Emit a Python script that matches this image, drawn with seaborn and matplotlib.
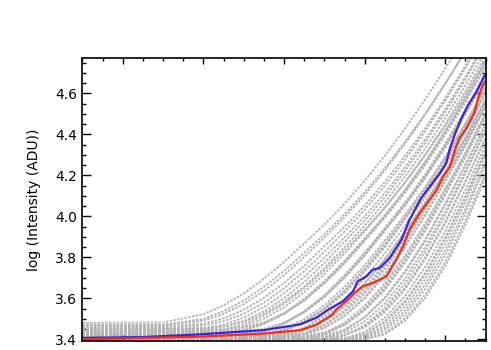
import matplotlib
matplotlib.use("Agg")
import matplotlib.pyplot as plt
import pandas as pd
import seaborn as sns
from matplotlib.ticker import FixedLocator, MultipleLocator

# ---------------- data ----------------
GRID_X = [0, 20, 30, 35, 40, 45, 50, 55, 60, 65, 70, 75, 80, 85, 90, 95, 100]

GRAY_CURVES = [
    [3.48, 3.482, 3.523, 3.566, 3.624, 3.696, 3.778, 3.868, 3.96, 4.062, 4.174, 4.296, 4.428, 4.57, 4.722, 4.884, 5.056],
    [3.47, 3.47, 3.50, 3.537, 3.589, 3.656, 3.734, 3.822, 3.912, 4.01, 4.118, 4.236, 4.364, 4.502, 4.65, 4.808, 4.976],
    [3.47, 3.47, 3.491, 3.524, 3.572, 3.636, 3.714, 3.802, 3.896, 3.995, 4.104, 4.224, 4.354, 4.495, 4.646, 4.808, 4.98],
    [3.465, 3.465, 3.476, 3.502, 3.544, 3.602, 3.675, 3.759, 3.854, 3.948, 4.053, 4.169, 4.295, 4.431, 4.578, 4.736, 4.904],
    [3.46, 3.46, 3.467, 3.488, 3.525, 3.579, 3.649, 3.733, 3.827, 3.926, 4.032, 4.149, 4.276, 4.415, 4.564, 4.725, 4.897],
    [3.45, 3.45, 3.454, 3.472, 3.506, 3.557, 3.624, 3.705, 3.798, 3.897, 4.0, 4.114, 4.24, 4.376, 4.524, 4.682, 4.851],
    [3.45, 3.45, 3.45, 3.462, 3.49, 3.536, 3.6, 3.68, 3.772, 3.876, 3.979, 4.094, 4.221, 4.359, 4.508, 4.669, 4.842],
    [3.44, 3.44, 3.44, 3.449, 3.474, 3.515, 3.573, 3.648, 3.736, 3.834, 3.935, 4.045, 4.166, 4.298, 4.441, 4.596, 4.762],
    [3.455, 3.455, 3.455, 3.462, 3.485, 3.525, 3.582, 3.658, 3.748, 3.849, 3.955, 4.069, 4.194, 4.331, 4.479, 4.64, 4.812],
    [3.44, 3.44, 3.44, 3.445, 3.464, 3.501, 3.556, 3.63, 3.718, 3.819, 3.927, 4.04, 4.165, 4.302, 4.45, 4.611, 4.784],
    [3.425, 3.425, 3.425, 3.427, 3.443, 3.477, 3.528, 3.598, 3.684, 3.783, 3.891, 4.001, 4.123, 4.258, 4.404, 4.563, 4.733],
    [3.43, 3.43, 3.43, 3.43, 3.443, 3.474, 3.524, 3.593, 3.68, 3.78, 3.893, 4.005, 4.13, 4.268, 4.418, 4.58, 4.755],
    [3.44, 3.44, 3.44, 3.44, 3.45, 3.478, 3.524, 3.589, 3.673, 3.77, 3.88, 3.993, 4.115, 4.25, 4.398, 4.558, 4.73],
    [3.45, 3.45, 3.45, 3.45, 3.458, 3.483, 3.527, 3.59, 3.674, 3.772, 3.884, 4.001, 4.126, 4.264, 4.415, 4.578, 4.755],
    [3.41, 3.41, 3.41, 3.41, 3.415, 3.436, 3.476, 3.536, 3.615, 3.712, 3.821, 3.938, 4.06, 4.195, 4.343, 4.505, 4.679],
    [3.42, 3.42, 3.42, 3.42, 3.423, 3.44, 3.478, 3.536, 3.614, 3.712, 3.822, 3.944, 4.068, 4.206, 4.357, 4.522, 4.7],
    [3.43, 3.43, 3.43, 3.43, 3.43, 3.444, 3.477, 3.531, 3.606, 3.70, 3.808, 3.93, 4.051, 4.186, 4.335, 4.497, 4.672],
    [3.44, 3.44, 3.44, 3.44, 3.44, 3.451, 3.482, 3.534, 3.607, 3.70, 3.81, 3.933, 4.059, 4.196, 4.347, 4.512, 4.692],
    [3.415, 3.415, 3.415, 3.415, 3.415, 3.423, 3.45, 3.498, 3.566, 3.656, 3.762, 3.883, 4.009, 4.143, 4.291, 4.454, 4.63],
    [3.41, 3.41, 3.41, 3.41, 3.41, 3.416, 3.439, 3.484, 3.551, 3.639, 3.746, 3.868, 3.999, 4.135, 4.286, 4.451, 4.631],
    [3.425, 3.425, 3.425, 3.425, 3.425, 3.428, 3.447, 3.487, 3.55, 3.634, 3.738, 3.857, 3.988, 4.121, 4.269, 4.431, 4.608],
    [3.43, 3.43, 3.43, 3.43, 3.43, 3.43, 3.445, 3.483, 3.543, 3.625, 3.73, 3.85, 3.985, 4.12, 4.27, 4.435, 4.615],
    [3.41, 3.41, 3.41, 3.41, 3.41, 3.41, 3.422, 3.457, 3.514, 3.594, 3.698, 3.819, 3.956, 4.095, 4.247, 4.414, 4.597],
    [3.405, 3.405, 3.405, 3.405, 3.405, 3.405, 3.414, 3.444, 3.496, 3.572, 3.672, 3.789, 3.923, 4.062, 4.211, 4.375, 4.555],
    [3.42, 3.42, 3.42, 3.42, 3.42, 3.42, 3.426, 3.452, 3.502, 3.575, 3.673, 3.791, 3.926, 4.07, 4.22, 4.386, 4.569],
    [3.40, 3.40, 3.40, 3.40, 3.40, 3.40, 3.403, 3.425, 3.471, 3.542, 3.638, 3.756, 3.892, 4.04, 4.192, 4.36, 4.545],
    [3.43, 3.43, 3.43, 3.43, 3.43, 3.43, 3.43, 3.447, 3.49, 3.558, 3.651, 3.77, 3.906, 4.059, 4.212, 4.382, 4.569],
    [3.415, 3.415, 3.415, 3.415, 3.415, 3.415, 3.415, 3.429, 3.468, 3.532, 3.623, 3.741, 3.877, 4.031, 4.189, 4.36, 4.549],
    [3.41, 3.41, 3.41, 3.41, 3.41, 3.41, 3.41, 3.421, 3.455, 3.516, 3.604, 3.72, 3.856, 4.011, 4.173, 4.346, 4.537],
    [3.42, 3.42, 3.42, 3.42, 3.42, 3.42, 3.42, 3.427, 3.457, 3.514, 3.599, 3.712, 3.849, 4.005, 4.171, 4.345, 4.537],
    [3.40, 3.40, 3.40, 3.40, 3.40, 3.40, 3.40, 3.404, 3.429, 3.482, 3.563, 3.674, 3.81, 3.966, 4.137, 4.312, 4.506],
    [3.405, 3.405, 3.405, 3.405, 3.405, 3.405, 3.405, 3.405, 3.425, 3.473, 3.551, 3.659, 3.795, 3.951, 4.127, 4.302, 4.497],
    [3.41, 3.41, 3.41, 3.41, 3.41, 3.41, 3.41, 3.41, 3.426, 3.47, 3.544, 3.648, 3.782, 3.938, 4.114, 4.294, 4.49],
    [3.42, 3.42, 3.42, 3.42, 3.42, 3.42, 3.42, 3.42, 3.432, 3.471, 3.541, 3.641, 3.773, 3.928, 4.105, 4.289, 4.486],
    [3.40, 3.40, 3.40, 3.40, 3.40, 3.40, 3.40, 3.40, 3.408, 3.442, 3.507, 3.604, 3.732, 3.887, 4.064, 4.253, 4.45],
    [3.415, 3.415, 3.415, 3.415, 3.415, 3.415, 3.415, 3.415, 3.419, 3.447, 3.507, 3.60, 3.725, 3.879, 4.056, 4.249, 4.447],
    [3.41, 3.41, 3.41, 3.41, 3.41, 3.41, 3.41, 3.41, 3.41, 3.432, 3.487, 3.575, 3.696, 3.85, 4.026, 4.224, 4.422],
    [3.40, 3.40, 3.40, 3.40, 3.40, 3.40, 3.40, 3.40, 3.40, 3.418, 3.469, 3.554, 3.674, 3.828, 4.007, 4.21, 4.417],
    [3.405, 3.405, 3.405, 3.405, 3.405, 3.405, 3.405, 3.405, 3.405, 3.419, 3.463, 3.541, 3.653, 3.801, 3.975, 4.173, 4.38],
    [3.41, 3.41, 3.41, 3.41, 3.41, 3.41, 3.41, 3.41, 3.41, 3.42, 3.458, 3.532, 3.643, 3.789, 3.967, 4.168, 4.384],
    [3.40, 3.40, 3.40, 3.40, 3.40, 3.40, 3.40, 3.40, 3.40, 3.405, 3.437, 3.505, 3.611, 3.753, 3.929, 4.13, 4.351],
    [3.40, 3.40, 3.40, 3.40, 3.40, 3.40, 3.40, 3.40, 3.40, 3.40, 3.425, 3.488, 3.588, 3.725, 3.90, 4.10, 4.325],
    [3.405, 3.405, 3.405, 3.405, 3.405, 3.405, 3.405, 3.405, 3.405, 3.405, 3.426, 3.483, 3.579, 3.714, 3.889, 4.091, 4.32],
    [3.40, 3.40, 3.40, 3.40, 3.40, 3.40, 3.40, 3.40, 3.40, 3.40, 3.416, 3.468, 3.559, 3.692, 3.864, 4.07, 4.302],
    [3.40, 3.40, 3.40, 3.40, 3.40, 3.40, 3.40, 3.40, 3.40, 3.40, 3.411, 3.455, 3.54, 3.667, 3.835, 4.038, 4.269],
    [3.40, 3.40, 3.40, 3.40, 3.40, 3.40, 3.40, 3.40, 3.40, 3.40, 3.406, 3.443, 3.523, 3.645, 3.81, 4.016, 4.249],
    [3.40, 3.40, 3.40, 3.40, 3.40, 3.40, 3.40, 3.40, 3.40, 3.40, 3.40, 3.429, 3.502, 3.618, 3.777, 3.98, 4.212],
    [3.40, 3.40, 3.40, 3.40, 3.40, 3.40, 3.40, 3.40, 3.40, 3.40, 3.40, 3.424, 3.49, 3.601, 3.757, 3.958, 4.192],
]

BLUE_X = [0, 15, 29, 45, 54, 58, 61.3, 64.6, 67.1, 68.3, 70.4, 72.0, 73.7, 76.2, 79.1, 81.1,
          82.0, 84.0, 86.1, 88.6, 90.2, 91.2, 92.3, 94.0, 95.6, 97.7, 99.75, 100]
BLUE_Y = [3.407, 3.411, 3.424, 3.445, 3.473, 3.505, 3.549, 3.586, 3.634, 3.683, 3.707, 3.740, 3.748, 3.797, 3.885, 3.983,
          4.015, 4.088, 4.144, 4.209, 4.258, 4.335, 4.397, 4.478, 4.542, 4.607, 4.688, 4.692]

RED_X = [0, 29, 45, 54, 58, 62, 63.0, 65.4, 67.5, 69.6, 72.0, 75.4, 77.8, 79.5, 81.1, 83.6,
         85.7, 87.8, 89.4, 91.1, 92.6, 93.5, 95.2, 97.3, 98.1, 99.3, 100]
RED_Y = [3.400, 3.413, 3.428, 3.445, 3.47, 3.52, 3.546, 3.586, 3.627, 3.659, 3.675, 3.707, 3.788, 3.853, 3.934, 4.015,
         4.071, 4.128, 4.193, 4.241, 4.335, 4.381, 4.429, 4.51, 4.575, 4.639, 4.66]

Y_TICKS = [3.4, 3.6, 3.8, 4.0, 4.2, 4.4, 4.6]
X_MAJOR = [10, 30, 50, 70, 90]
Y_LABEL = "log (Intensity (ADU))"

# ---------------- figure ----------------
sns.set_style("ticks")
plt.rcParams['font.family'] = ['DejaVu Sans']
plt.rcParams['text.color'] = 'black'
plt.rcParams['axes.labelcolor'] = 'black'

fig = plt.figure(figsize=(4.91, 3.5), dpi=100)
ax = fig.add_axes([0.168, 0.027, 0.821, 0.806])

rows = []
for i, ys in enumerate(GRAY_CURVES):
    for x, y in zip(GRID_X, ys):
        rows.append((i, x, y))
gray = pd.DataFrame(rows, columns=['curve', 'x', 'y'])

sns.lineplot(data=gray, x='x', y='y', units='curve', estimator=None, sort=False,
             color='#b4b4b4', lw=1.3, linestyle=(0, (1.4, 0.7)), ax=ax, legend=False)
sns.lineplot(x=BLUE_X, y=BLUE_Y, sort=False, color='#3c22e6', lw=1.6, ax=ax)
sns.lineplot(x=RED_X, y=RED_Y, sort=False, color='#ff2a14', lw=1.6, ax=ax)

ax.set_xlim(0, 100)
ax.set_ylim(3.394, 4.771)
ax.xaxis.set_major_locator(FixedLocator(X_MAJOR))
ax.xaxis.set_minor_locator(MultipleLocator(5))
ax.yaxis.set_major_locator(FixedLocator(Y_TICKS))
ax.yaxis.set_minor_locator(MultipleLocator(0.05))
ax.set_yticklabels([f"{v:.1f}" for v in Y_TICKS])

for s in ax.spines.values():
    s.set_visible(True)
    s.set_linewidth(1.2)
    s.set_color('black')

ax.tick_params(axis='both', which='both', direction='in', top=True, right=True,
               bottom=True, left=True, color='black', width=1.0, labelcolor='black')
ax.tick_params(axis='x', which='major', length=4.5, labelbottom=False)
ax.tick_params(axis='x', which='minor', length=2.2)
ax.tick_params(axis='y', which='major', length=6.5, labelsize=10, pad=4)
ax.tick_params(axis='y', which='minor', length=3.2)

ax.set_xlabel('')
ax.set_ylabel(Y_LABEL, fontsize=10, color='black')
ax.yaxis.set_label_coords(-0.104, 0.5)

fig.savefig('out.png', dpi=100)
